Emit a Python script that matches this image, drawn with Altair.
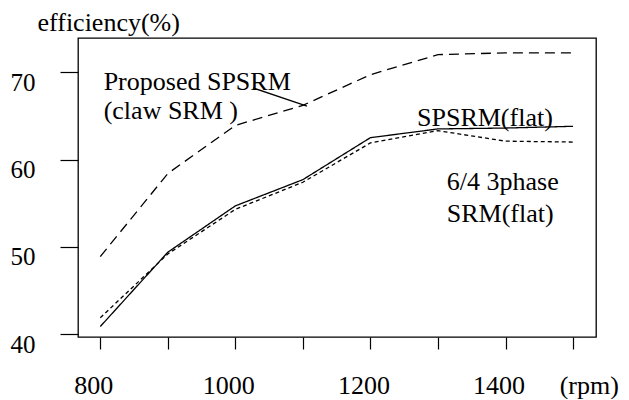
import altair as alt
import pandas as pd

# ---- data ----
rpm = [800, 900, 1000, 1100, 1200, 1300, 1400, 1500]
proposed_claw = [48.9, 58.4, 63.9, 66.2, 69.7, 72.0, 72.2, 72.2]
spsrm_flat = [40.9, 49.4, 54.7, 57.7, 62.5, 63.5, 63.6, 63.8]
srm_flat = [41.9, 49.2, 54.3, 57.4, 61.9, 63.3, 62.1, 62.0]

series_names = ["Proposed SPSRM (claw SRM)", "SPSRM(flat)", "6/4 3phase SRM(flat)"]
series_dash = [[10, 6], [1, 0], [4, 3]]

y_ticks = [40, 50, 60, 70]
x_ticks = [800, 900, 1000, 1100, 1200, 1300, 1400, 1500]
x_labelled = [800, 1000, 1200, 1400]

# annotation texts and their anchor positions (data units)
ann_text = ["Proposed SPSRM", "(claw SRM )", "SPSRM(flat)", "6/4 3phase", "SRM(flat)"]
ann_x = [805, 805, 1269, 1313, 1313]
ann_y = [68.0, 64.6, 63.8, 56.5, 52.85]

leader_x = [1026]
leader_y = [68.2]
leader_x2 = [1106]
leader_y2 = [66.1]

unit_text = ["(rpm)"]
unit_x = [1524]
unit_y = [33.2]

FONT = "Liberation Serif"

rows = []
for name, vals in zip(series_names, [proposed_claw, spsrm_flat, srm_flat]):
    for r, v in zip(rpm, vals):
        rows.append({"rpm": r, "eff": v, "series": name})
df = pd.DataFrame(rows)

xs = alt.Scale(domain=[767, 1534], nice=False, zero=False)
ys = alt.Scale(domain=[39.7, 73.9], nice=False, zero=False)

label_expr = "indexof([" + ",".join(str(v) for v in x_labelled) + "], datum.value) >= 0 ? datum.value : ''"

lines = alt.Chart(df).mark_line(color="black", strokeWidth=1.3).encode(
    x=alt.X("rpm:Q", scale=xs, axis=alt.Axis(
        values=x_ticks, labelExpr=label_expr, title=None, grid=False, domain=False,
        tickSize=12, tickColor="black", tickWidth=1.2, labelPadding=23,
        labelFont=FONT, labelFontSize=26, labelColor="black", labelOffset=-7)),
    y=alt.Y("eff:Q", scale=ys, axis=alt.Axis(
        values=y_ticks, title="efficiency(%)", grid=False, domain=False,
        tickSize=18, tickColor="black", tickWidth=1.2, labelPadding=25,
        labelFont=FONT, labelFontSize=25, labelColor="black", labelOffset=10,
        titleAngle=0, titleX=-41, titleY=-8, titleAlign="left",
        titleBaseline="alphabetic", titleFont=FONT, titleFontSize=26,
        titleFontWeight="normal", titleColor="black")),
    strokeDash=alt.StrokeDash("series:N", scale=alt.Scale(domain=series_names, range=series_dash), legend=None),
    detail="series:N",
)

ann_df = pd.DataFrame({"text": ann_text, "x": ann_x, "y": ann_y})
ann = alt.Chart(ann_df).mark_text(font=FONT, fontSize=26, align="left", baseline="alphabetic", color="black").encode(
    x=alt.X("x:Q", scale=xs), y=alt.Y("y:Q", scale=ys), text="text:N")

unit_df = pd.DataFrame({"text": unit_text, "x": unit_x, "y": unit_y})
unit = alt.Chart(unit_df).mark_text(font=FONT, fontSize=26, align="center", baseline="alphabetic", color="black").encode(
    x=alt.X("x:Q", scale=xs), y=alt.Y("y:Q", scale=ys), text="text:N")

lead_df = pd.DataFrame({"x": leader_x, "y": leader_y, "x2": leader_x2, "y2": leader_y2})
lead = alt.Chart(lead_df).mark_rule(color="black", strokeWidth=1.3).encode(
    x=alt.X("x:Q", scale=xs), y=alt.Y("y:Q", scale=ys), x2="x2:Q", y2="y2:Q")

chart = alt.layer(lines, ann, unit, lead).properties(
    width=518, height=299,
    autosize=alt.AutoSizeParams(type="none"),
    padding={"left": 70, "top": 30, "right": 25, "bottom": 62},
    background="white",
).configure_view(stroke="black", strokeWidth=1.3)

chart.save("out.html", embed_options={"renderer": "svg", "actions": False})
